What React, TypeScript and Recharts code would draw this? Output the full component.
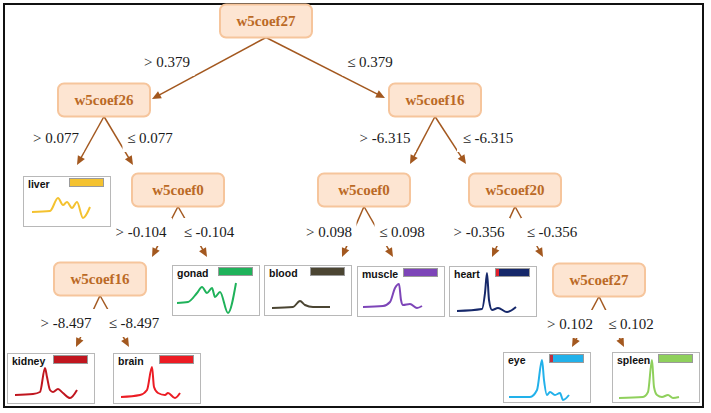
import React from 'react';
import {
  ScatterChart,
  Scatter,
  XAxis,
  YAxis,
  ReferenceLine,
  LineChart,
  Line,
} from 'recharts';

// split feature of each internal node (n0..n7) and its threshold
const nodeNames = ['w5coef27', 'w5coef26', 'w5coef16', 'w5coef0', 'w5coef0', 'w5coef20', 'w5coef16', 'w5coef27'];
const thresholds = [0.379, 0.077, -6.315, -0.104, 0.098, -0.356, -8.497, 0.102];
// "> t" branch and "<= t" branch
const leftChild = ['n1', 'liver', 'n4', 'n6', 'blood', 'heart', 'kidney', 'eye'];
const rightChild = ['n2', 'n3', 'n5', 'gonad', 'muscle', 'n7', 'brain', 'spleen'];

const leafNames = ['liver', 'gonad', 'blood', 'muscle', 'heart', 'kidney', 'brain', 'eye', 'spleen'];

// class profile curves shown in each leaf: [t, value]
const liverWave = [[8, 12], [26, 13], [34, 26], [39, 19], [43, 22], [48, 16], [53, 22], [59, 6], [66, 17]];
const gonadWave = [[4, 10], [15, 11], [24, 20], [29, 26], [34, 20], [39, 25], [42, 16], [47, 21], [55, 0], [63, 30]];
const bloodWave = [[7, 5], [28, 6], [35, 12], [40, 8], [48, 6], [65, 6]];
const muscleWave = [[5, 7], [25, 8], [32, 12], [37, 26], [41, 30], [43, 14], [45, 9], [52, 10], [59, 6], [64, 8]];
const heartWave = [[7, 3], [32, 5], [35, 21], [37, 41], [39, 14], [42, 4], [48, 6], [57, 2], [66, 7]];
const kidneyWave = [[7, 6], [25, 7], [32, 9], [37, 33], [39, 24], [42, 11], [45, 9], [50, 12], [55, 8], [62, 3], [69, 11]];
const brainWave = [[7, 4], [26, 6], [33, 11], [38, 34], [40, 14], [44, 8], [51, 6], [54, 8], [61, 3], [66, 8]];
const eyeWave = [[5, 3], [26, 3], [33, 10], [38, 40], [40, 20], [43, 5], [46, 8], [51, 5], [56, 7], [59, 0], [65, 5]];
const spleenWave = [[6, 2], [30, 3], [35, 8], [39, 40], [41, 13], [44, 5], [49, 3], [55, 5], [60, 2], [66, 3]];

const waves: Record<string, number[][]> = {
  liver: liverWave, gonad: gonadWave, blood: bloodWave, muscle: muscleWave, heart: heartWave,
  kidney: kidneyWave, brain: brainWave, eye: eyeWave, spleen: spleenWave,
};

// layout (pixels)
const W = 711;
const H = 413;
const nodeCenter = [[266, 21], [104, 100], [435, 100], [178, 190], [364, 190], [515, 190], [100, 279], [599, 280]];
const leafPos: Record<string, number[]> = {
  liver: [23, 176], gonad: [172, 265], blood: [264, 265], muscle: [357, 266], heart: [449, 266],
  kidney: [7, 353], brain: [113, 353], eye: [503, 352], spleen: [612, 352],
};
const edgeTip: Record<string, number[]> = {
  n1: [152, 99], n2: [385, 98], n3: [133, 165], n4: [410, 164], n5: [466, 164], n6: [152, 257], n7: [543, 257],
  liver: [77, 165], gonad: [207, 257], blood: [342, 257], muscle: [393, 257], heart: [492, 257],
  kidney: [76, 347], brain: [129, 347], eye: [572, 347], spleen: [624, 347],
};
const labelPos = [
  [[167, 62], [370, 62]],
  [[56, 138], [150, 138]],
  [[385, 138], [488, 138]],
  [[141, 232], [209, 232]],
  [[329, 232], [402, 232]],
  [[479, 232], [552, 232]],
  [[66, 323], [134, 323]],
  [[570, 324], [631, 324]],
];

const leafColor: Record<string, string> = {
  liver: '#f4c230', gonad: '#1fb25a', blood: '#4b4532', muscle: '#7d45b8', heart: '#16286a',
  kidney: '#c0161f', brain: '#ec1c24', eye: '#22b1ea', spleen: '#8fd05c',
};
const swatchStripe: Record<string, string> = { heart: '#e3202b', eye: '#c03040' };

const BOX_W = 92;
const BOX_H = 33;
const EDGE = '#a3581f';
const SERIF = '"Liberation Serif", "Times New Roman", serif';
const SANS = '"Liberation Sans", Arial, sans-serif';

const fmt = (t: number) => t.toFixed(3);

const nodeData = nodeNames.map((name, i) => ({ x: nodeCenter[i][0], y: nodeCenter[i][1], name }));

const labelData = thresholds.flatMap((t, i) => [
  { x: labelPos[i][0][0], y: labelPos[i][0][1], text: `> ${fmt(t)}` },
  { x: labelPos[i][1][0], y: labelPos[i][1][1], text: `\u2264 ${fmt(t)}` },
]);

const edges = thresholds.flatMap((_, i) => {
  const [cx, cy] = nodeCenter[i];
  const start = { x: cx, y: cy + BOX_H / 2 };
  return [leftChild[i], rightChild[i]].map((c) => ({
    start,
    end: { x: edgeTip[c][0], y: edgeTip[c][1] },
  }));
});

const Arrow = (p: any) => {
  const { x1, y1, x2, y2 } = p;
  const dx = x2 - x1;
  const dy = y2 - y1;
  const len = Math.hypot(dx, dy) || 1;
  const ux = dx / len;
  const uy = dy / len;
  const bx = x2 - ux * 9;
  const by = y2 - uy * 9;
  const pts = `${x2},${y2} ${bx - uy * 4},${by + ux * 4} ${bx + uy * 4},${by - ux * 4}`;
  return (
    <g>
      <line x1={x1} y1={y1} x2={bx + ux} y2={by + uy} stroke={EDGE} strokeWidth={1.5} />
      <polygon points={pts} fill={EDGE} />
    </g>
  );
};

const NodeShape = (p: any) => {
  const { cx, cy, payload } = p;
  return (
    <g>
      <rect x={cx - BOX_W / 2} y={cy - BOX_H / 2} width={BOX_W} height={BOX_H} rx={6}
        fill="#fde5d2" stroke="#f6c59c" strokeWidth={2} />
      <text x={cx} y={cy + 5} textAnchor="middle" fontFamily={SERIF} fontWeight="bold"
        fontSize={15} fill="#bb6a26">{payload.name}</text>
    </g>
  );
};

const LabelShape = (p: any) => {
  const { cx, cy, payload } = p;
  const w = payload.text.length * 7 + 6;
  return (
    <g>
      <rect x={cx - w / 2} y={cy - 14} width={w} height={28} fill="#fff" />
      <text x={cx} y={cy + 5} textAnchor="middle" fontFamily={SERIF} fontSize={15} fill="#1a1a1a">
        {payload.text}
      </text>
    </g>
  );
};

const Leaf = ({ name }: { name: string }) => {
  const [left, top] = leafPos[name];
  const data = waves[name].map(([t, v]) => ({ t, v }));
  const stripe = swatchStripe[name];
  return (
    <div style={{ position: 'absolute', left, top, width: 88, height: 51, boxSizing: 'border-box',
      border: '1px solid #b8b8b8', background: '#fff' }}>
      <div style={{ position: 'absolute', left: 4, top: 1, fontFamily: SANS, fontWeight: 'bold',
        fontSize: 10.5, color: '#111', lineHeight: '12px' }}>{name}</div>
      <div style={{ position: 'absolute', left: 45, top: 1, width: 35, height: 9, boxSizing: 'border-box',
        border: '1px solid #9a9a9a', background: leafColor[name] }}>
        {stripe && <div style={{ position: 'absolute', left: 0, top: 0, width: 3, height: '100%', background: stripe }} />}
      </div>
      <div style={{ position: 'absolute', left: 0, top: 0 }}>
        <LineChart width={86} height={49} data={data} margin={{ top: 2, right: 0, bottom: 2, left: 0 }}>
          <XAxis type="number" dataKey="t" domain={[0, 86]} hide />
          <YAxis type="number" domain={[0, 45]} hide />
          <Line type="monotone" dataKey="v" stroke={leafColor[name]} strokeWidth={2} dot={false}
            isAnimationActive={false} />
        </LineChart>
      </div>
    </div>
  );
};

export default function App() {
  return (
    <div style={{ position: 'absolute', left: 0, top: 0, width: W, height: H, background: '#fff' }}>
      <div style={{ position: 'absolute', left: 3, top: 3, width: 701, height: 405, boxSizing: 'border-box',
        border: '2px solid #111' }} />
      <div style={{ position: 'absolute', left: 0, top: 0 }}>
        <ScatterChart width={W} height={H} margin={{ top: 0, right: 0, bottom: 0, left: 0 }}>
          <XAxis type="number" dataKey="x" domain={[0, W]} hide />
          <YAxis type="number" dataKey="y" domain={[0, H]} reversed hide />
          {edges.map((e, i) => (
            <ReferenceLine key={i} segment={[e.start, e.end]} shape={Arrow} ifOverflow="visible" />
          ))}
          <Scatter data={labelData} shape={LabelShape} isAnimationActive={false} />
          <Scatter data={nodeData} shape={NodeShape} isAnimationActive={false} />
        </ScatterChart>
      </div>
      {leafNames.map((n) => <Leaf key={n} name={n} />)}
    </div>
  );
}
